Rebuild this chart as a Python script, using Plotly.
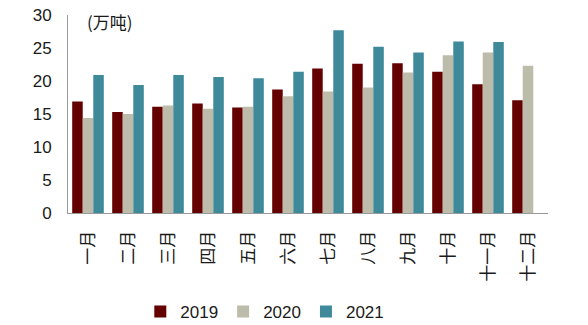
import plotly.graph_objects as go

months = ["一月", "二月", "三月", "四月", "五月", "六月", "七月", "八月", "九月", "十月", "十一月", "十二月"]
y2019 = [16.9, 15.3, 16.1, 16.6, 16.0, 18.7, 21.9, 22.6, 22.7, 21.4, 19.5, 17.1]
y2020 = [14.4, 15.0, 16.3, 15.8, 16.1, 17.7, 18.4, 19.0, 21.3, 23.9, 24.3, 22.3]
y2021 = [20.9, 19.4, 20.9, 20.6, 20.4, 21.4, 27.7, 25.2, 24.3, 26.0, 25.9, None]

colors = {"2019": "#650000", "2020": "#BDBBA9", "2021": "#3E8A9B"}

fig = go.Figure()
for name, vals in [("2019", y2019), ("2020", y2020), ("2021", y2021)]:
    fig.add_trace(go.Bar(x=months, y=vals, name=name, marker=dict(color=colors[name], line=dict(width=0))))

font_family = "Liberation Sans, Arial, Noto Sans CJK SC, sans-serif"
fig.update_layout(
    width=588, height=325,
    margin=dict(l=68, r=40, t=15, b=112, autoexpand=False),
    paper_bgcolor="white", plot_bgcolor="white",
    barmode="group", bargap=0.21, bargroupgap=0,
    font=dict(family=font_family, color="#1a1a1a", size=17),
    showlegend=True,
    legend=dict(orientation="h", x=0.41, xanchor="center", y=-0.5, yanchor="middle",
                font=dict(size=17), itemwidth=30, tracegroupgap=0),
    xaxis=dict(showline=True, linecolor="#999999", linewidth=1, ticks="", automargin=False,
               tickangle=-90, ticklabelstandoff=10,
               tickfont=dict(size=17, family="Noto Sans CJK SC"), showgrid=False),
    yaxis=dict(range=[0, 30], dtick=5, showline=True, linecolor="#999999", linewidth=1,
               showgrid=False, ticks="", tickfont=dict(size=17), zeroline=False,
               automargin=False, ticklabelstandoff=12),
    annotations=[dict(text="(万吨)", x=0.035, xref="paper", y=29, yref="y",
                      showarrow=False, xanchor="left", yanchor="middle",
                      font=dict(size=17, family="Noto Sans CJK SC"))],
)

fig.write_html("out.html")
